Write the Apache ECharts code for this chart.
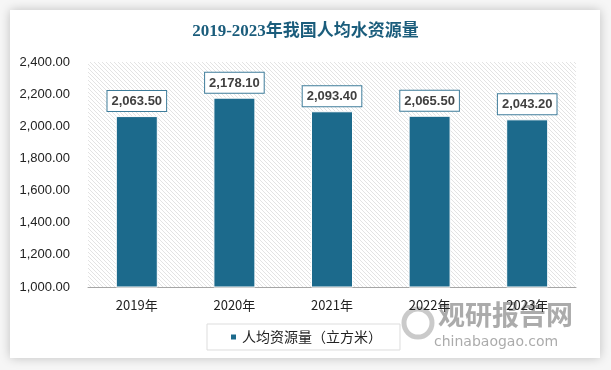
<!DOCTYPE html>
<html><head><meta charset="utf-8">
<script src="https://cdn.jsdelivr.net/npm/echarts@6/dist/echarts.min.js"></script>
<style>html,body{margin:0;padding:0;background:#fff}#c{width:611px;height:370px}</style>
</head><body><div id="c"></div>
<script>
const categories = ['2019年', '2020年', '2021年', '2022年', '2023年'];
const values = [2063.5, 2178.1, 2093.4, 2065.5, 2043.2];
const seriesName = '人均资源量（立方米）';
const titleText = '2019-2023年我国人均水资源量';
const yMin = 1000, yMax = 2400, yStep = 200;

function fmt(v) {
  return v.toLocaleString('en-US', {minimumFractionDigits: 2, maximumFractionDigits: 2});
}

// hatch pattern
const pc = document.createElement('canvas');
pc.width = 4; pc.height = 4;
const px = pc.getContext('2d');
px.fillStyle = '#ffffff'; px.fillRect(0, 0, 4, 4);
px.strokeStyle = '#e3e3e3'; px.lineWidth = 1;
px.beginPath();
px.moveTo(0, 0); px.lineTo(4, 4);
px.moveTo(-2, 2); px.lineTo(2, 6);
px.moveTo(2, -2); px.lineTo(6, 2);
px.stroke();

const chart = echarts.init(document.getElementById('c'), null, {renderer: 'canvas'});
chart.setOption({
  backgroundColor: '#f6f6f6',
  graphic: [
    {type: 'rect', z: -10, shape: {x: 10, y: 10, width: 590, height: 348},
     style: {fill: '#ffffff', shadowBlur: 10, shadowColor: 'rgba(0,0,0,0.22)'}},
    {type: 'rect', z: -5, shape: {x: 88, y: 62, width: 488, height: 225},
     style: {fill: {image: pc, repeat: 'repeat'}}},
    {type: 'text', z: 0, left: 438, top: 301,
     style: {text: '观研报告网', font: 'bold 27px "Noto Sans CJK SC"', fill: 'rgba(150,150,150,0.8)'}},
    {type: 'text', z: 0, left: 434, top: 335,
     style: {text: 'chinabaogao.com', font: '14px "DejaVu Sans"', fill: 'rgba(150,150,150,0.8)'}},
    {type: 'circle', z: 0, shape: {cx: 418, cy: 323, r: 14},
     style: {fill: 'none', stroke: 'rgba(180,180,180,0.7)', lineWidth: 5}}
  ],
  title: {
    text: titleText, left: 'center', top: 18,
    textStyle: {fontFamily: '"Liberation Serif", "Noto Sans CJK SC"', fontWeight: 'bold', fontSize: 17, color: '#1b5d7c'}
  },
  legend: {
    data: [seriesName], left: 207, top: 324, itemWidth: 7, itemHeight: 7, itemGap: 4,
    padding: [6, 18, 6, 22],
    borderColor: '#dddddd', borderWidth: 1,
    icon: 'rect',
    textStyle: {fontFamily: '"Noto Sans CJK SC"', fontSize: 14, color: '#222'}
  },
  grid: {left: 88, right: 35, top: 62, bottom: 83},
  xAxis: {
    type: 'category', data: categories,
    axisLine: {lineStyle: {color: '#a6a6a6'}},
    axisTick: {show: false},
    axisLabel: {margin: 12, fontFamily: '"Noto Sans CJK SC"', fontSize: 13, color: '#222'}
  },
  yAxis: {
    type: 'value', min: yMin, max: yMax, interval: yStep,
    splitLine: {show: false},
    axisLine: {show: false}, axisTick: {show: false},
    axisLabel: {margin: 18, formatter: v => fmt(v), fontFamily: '"Liberation Sans", Arial', fontSize: 13, color: '#222'}
  },
  series: [{
    name: seriesName, type: 'bar', data: values, barWidth: 42,
    itemStyle: {color: '#1c6a8c', borderColor: '#ffffff', borderWidth: 1},
    label: {
      show: true, position: 'top', distance: 5,
      formatter: p => fmt(p.value),
      backgroundColor: '#ffffff', borderColor: '#3f7d9b', borderWidth: 1,
      padding: [4, 4, 3, 4],
      fontFamily: '"Liberation Sans", Arial', fontWeight: 'bold', fontSize: 13, color: '#404040'
    }
  }]
});
</script></body></html>
